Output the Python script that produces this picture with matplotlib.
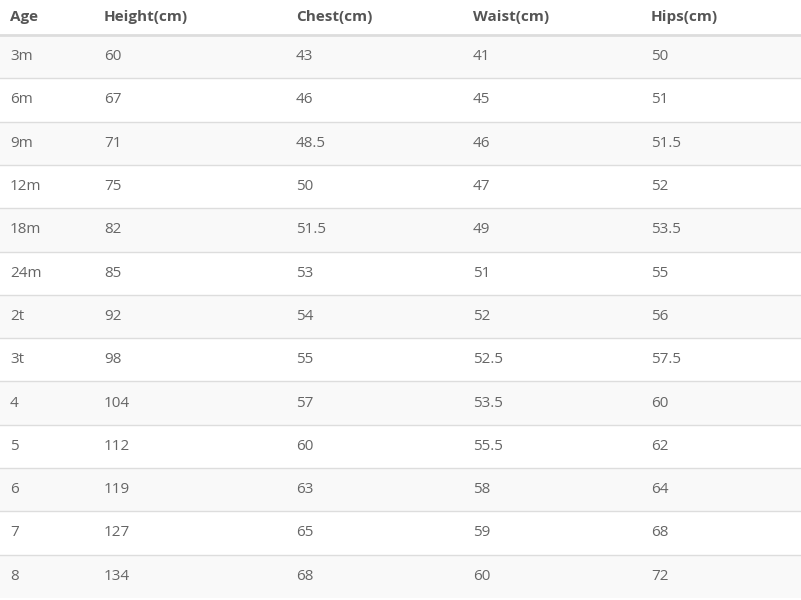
import matplotlib.pyplot as plt
from matplotlib.patches import Rectangle

columns = ["Age", "Height(cm)", "Chest(cm)", "Waist(cm)", "Hips(cm)"]
ages = ["3m", "6m", "9m", "12m", "18m", "24m", "2t", "3t", "4", "5", "6", "7", "8"]
height = ["60", "67", "71", "75", "82", "85", "92", "98", "104", "112", "119", "127", "134"]
chest = ["43", "46", "48.5", "50", "51.5", "53", "54", "55", "57", "60", "63", "65", "68"]
waist = ["41", "45", "46", "47", "49", "51", "52", "52.5", "53.5", "55.5", "58", "59", "60"]
hips = ["50", "51", "51.5", "52", "53.5", "55", "56", "57.5", "60", "62", "64", "68", "72"]

W, H = 801, 600
col_x = [10, 104, 296, 473, 651]
header_h = 35
row_h = 43.3

fig = plt.figure(figsize=(W / 100, H / 100), dpi=100)
ax = fig.add_axes([0, 0, 1, 1])
ax.set_xlim(0, W)
ax.set_ylim(H, 0)
ax.axis("off")

ax.text(0, 0, "")
for x, name in zip(col_x, columns):
    ax.text(x, header_h / 2, name, va="center", ha="left", fontsize=11,
            fontweight="bold", color="#555555", family="Open Sans")
ax.plot([0, W], [header_h, header_h], color="#dddddd", lw=2)

rows = list(zip(ages, height, chest, waist, hips))
for i, row in enumerate(rows):
    top = header_h + i * row_h
    if i % 2 == 0:
        ax.add_patch(Rectangle((0, top), W, row_h, color="#f9f9f9", lw=0, zorder=0))
    for x, val in zip(col_x, row):
        ax.text(x, top + row_h / 2, val, va="center", ha="left", fontsize=11,
                color="#666666", family="Open Sans")
    if i > 0:
        ax.plot([0, W], [top, top], color="#dddddd", lw=1)

fig.savefig("out.png", dpi=100)
